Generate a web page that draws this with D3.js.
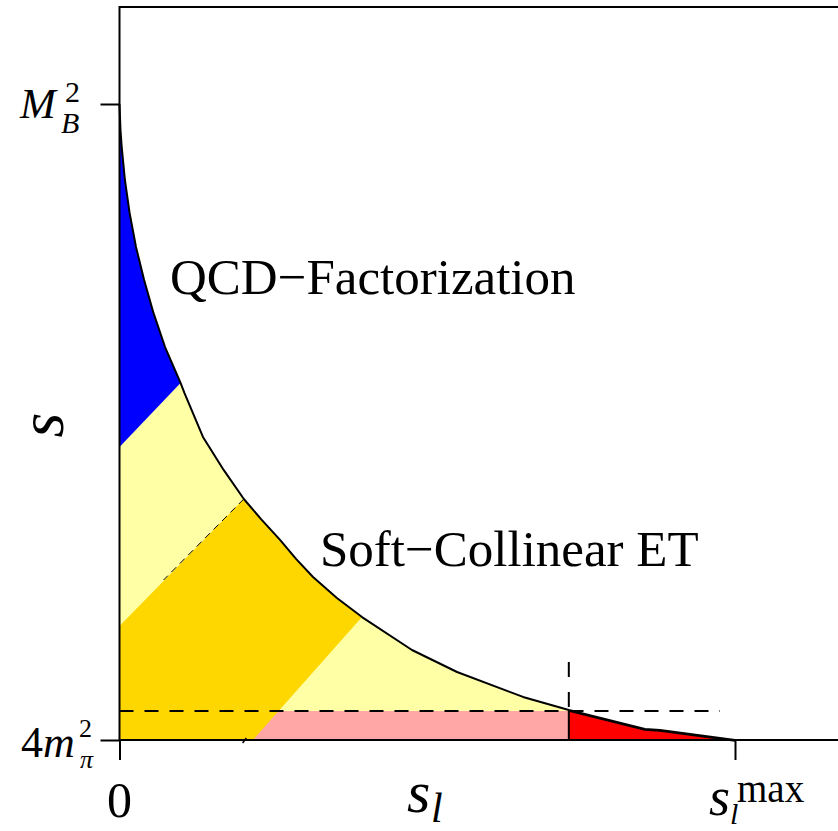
<!DOCTYPE html>
<html>
<head>
<meta charset="utf-8">
<script src="https://cdn.jsdelivr.net/npm/d3@7"></script>
<style>
  html, body { margin: 0; padding: 0; background: #fff; }
  svg { display: block; }
  text { font-family: "Liberation Serif", "DejaVu Serif", serif; fill: #000; }
</style>
</head>
<body>
<svg id="chart" width="838" height="831"></svg>
<script>
// Kinematic quantities (GeV^2)
const M_B2 = 27.87;        // M_B^2
const FOUR_MPI2 = 0.078;   // 4 m_pi^2
const SL_MAX = 25.0;       // s_l^max

// Phase-space boundary s(s_l)
const boundarySl = [0.00, 0.04, 0.09, 0.22, 0.41, 0.67, 1.00, 1.38, 1.85, 2.48, 2.64, 3.39, 4.23, 5.05, 5.75, 6.52, 7.17, 7.86, 8.83, 9.85, 11.88, 13.71, 16.39, 18.25, 21.34, 21.95, 25.00];
const boundaryS  = [27.87, 26.73, 25.99, 24.55, 23.11, 21.62, 20.18, 18.74, 17.25, 15.68, 15.24, 13.32, 11.88, 10.61, 9.73, 8.82, 7.99, 7.20, 6.28, 5.45, 4.01, 3.05, 1.96, 1.39, 0.56, 0.51, 0.078];

// Straight cut lines bounding the regions: [s_l, s] end points
const qcdfCut  = [[0.00, 12.88], [2.48, 15.68]];     // lower edge of the QCD factorization region
const scetLow  = [[0.00, 5.06], [5.05, 10.61]];      // upper-left edge of the SCET band
const scetHigh = [[5.42, FOUR_MPI2], [9.85, 5.45]];  // lower-right edge of the SCET band
const lowS     = 1.345;   // dashed line in s
const lowSlEnd = 24.39;
const cutSl    = 18.25;   // dashed line in s_l
const cutSlTop = 3.49;

// Axis tick values
const yTicks = [FOUR_MPI2, M_B2];
const xTicks = [0, SL_MAX];

const svg = d3.select("#chart");
const x = d3.scaleLinear().domain([0, SL_MAX]).range([119.5, 735]);
const y = d3.scaleLinear().domain([FOUR_MPI2, M_B2]).range([740, 104]);

const boundary = boundarySl.map((d, i) => [d, boundaryS[i]]);
const poly = d3.line().x(d => x(d[0])).y(d => y(d[1]));
const region = d3.area().x(d => x(d[0])).y0(y(FOUR_MPI2)).y1(d => y(d[1]));

// extend a cut line (given by two points) by factor k beyond its first point
const extend = (p, k) => [p[0][0] + (p[1][0] - p[0][0]) * k, p[0][1] + (p[1][1] - p[0][1]) * k];

// allowed phase space as clip
svg.append("clipPath").attr("id", "phase")
  .append("path").attr("d", region(boundary));
const g = svg.append("g").attr("clip-path", "url(#phase)");

// whole allowed region
g.append("path").attr("d", region(boundary)).attr("fill", "#ffffa6");

// QCD factorization region (large s)
const qEnd = extend(qcdfCut, 3);
g.append("path")
  .attr("d", poly([qcdfCut[0], qEnd, [qEnd[0], 40], [0, 40]]) + "Z")
  .attr("fill", "#0000ff");

// low-s strip
g.append("path")
  .attr("d", poly([[0, FOUR_MPI2], [0, lowS], [cutSl, lowS], [cutSl, FOUR_MPI2]]) + "Z")
  .attr("fill", "#ffa6a6");

// SCET band
g.append("path")
  .attr("d", poly([[0, FOUR_MPI2], scetLow[0], extend(scetLow, 1.5), extend(scetHigh, 1.5), scetHigh[0]]) + "Z")
  .attr("fill", "#ffd700");

// endpoint region (large s_l)
g.append("path")
  .attr("d", poly([[cutSl, FOUR_MPI2], [cutSl, 40], [40, 40], [40, FOUR_MPI2]]) + "Z")
  .attr("fill", "#ff0000");
svg.append("path")
  .attr("d", poly(boundary.filter(d => d[0] >= cutSl)))
  .attr("transform", "translate(0,1)")
  .attr("stroke", "#000").attr("stroke-width", 1.4).attr("fill", "none");

// dashed edge of the SCET band
svg.append("path")
  .attr("d", poly([scetLow[1], [1.79, 7.07]]))
  .attr("stroke", "#000").attr("stroke-width", 1)
  .attr("stroke-dasharray", "7,5").attr("fill", "none");

// dashed cut lines
svg.append("path")
  .attr("d", poly([[0, lowS], [lowSlEnd, lowS]]))
  .attr("stroke", "#000").attr("stroke-width", 2)
  .attr("stroke-dasharray", "14,11").attr("fill", "none");
svg.append("path")
  .attr("d", poly([[cutSl, cutSlTop], [cutSl, lowS]]))
  .attr("stroke", "#000").attr("stroke-width", 2)
  .attr("stroke-dasharray", "15,15").attr("fill", "none");
svg.append("path")
  .attr("d", poly([[cutSl, lowS], [cutSl, FOUR_MPI2]]))
  .attr("stroke", "#000").attr("stroke-width", 2).attr("fill", "none");

// boundary curve
svg.append("path")
  .attr("d", poly(boundary))
  .attr("stroke", "#000").attr("stroke-width", 2).attr("fill", "none")
  .attr("stroke-linejoin", "round");

// frame
const yTop = y.invert(7), xRight = x.invert(860);
svg.append("path")
  .attr("d", poly([[xRight, yTop], [0, yTop], [0, FOUR_MPI2], [xRight, FOUR_MPI2]]))
  .attr("stroke", "#000").attr("stroke-width", 2).attr("fill", "none");

// small mark at the foot of the SCET band
svg.append("line")
  .attr("x1", x(5.0)).attr("y1", y(FOUR_MPI2) + 3)
  .attr("x2", x(5.15)).attr("y2", y(FOUR_MPI2) - 2)
  .attr("stroke", "#000").attr("stroke-width", 1.5);

// axes (ticks only, frame drawn above)
const yAxis = svg.append("g").attr("transform", `translate(${x(0)},0)`)
  .call(d3.axisLeft(y).tickValues(yTicks).tickSize(19).tickFormat(""));
const xAxis = svg.append("g").attr("transform", `translate(0,${y(FOUR_MPI2)})`)
  .call(d3.axisBottom(x).tickValues(xTicks).tickSize(20).tickFormat(""));
[yAxis, xAxis].forEach(a => {
  a.select(".domain").remove();
  a.selectAll(".tick line").attr("stroke", "#000").attr("stroke-width", 2);
});

// y tick labels
const ym = y(M_B2);
const tM = svg.append("text");
tM.append("tspan").attr("x", 20).attr("y", ym + 14).attr("font-size", 43).attr("font-style", "italic").text("M");
tM.append("tspan").attr("x", 65).attr("y", ym - 2).attr("font-size", 30).text("2");
tM.append("tspan").attr("x", 61).attr("y", ym + 29).attr("font-size", 30).attr("font-style", "italic").text("B");

const y4 = y(FOUR_MPI2);
const t4 = svg.append("text").attr("font-size", 44);
t4.append("tspan").attr("x", 21).attr("y", y4 + 17).text("4");
t4.append("tspan").attr("font-style", "italic").text("m");
t4.append("tspan").attr("x", 79).attr("y", y4 - 3).attr("font-size", 26).text("2");
t4.append("tspan").attr("x", 80).attr("y", y4 + 28).attr("font-size", 26).attr("font-style", "italic").text("π");

// x tick labels
svg.append("text").attr("x", x(0)).attr("y", 817).attr("text-anchor", "middle")
  .attr("font-size", 50).text("0");
const tMax = svg.append("text");
tMax.append("tspan").attr("x", x(SL_MAX) - 26).attr("y", 815).attr("font-size", 54).attr("font-style", "italic").text("s");
tMax.append("tspan").attr("x", x(SL_MAX) - 5).attr("y", 824).attr("font-size", 30).attr("font-style", "italic").text("l");
tMax.append("tspan").attr("x", x(SL_MAX) + 2).attr("y", 802).attr("font-size", 39).text("max");

// axis titles
const tSl = svg.append("text").attr("font-style", "italic");
tSl.append("tspan").attr("x", 407).attr("y", 812).attr("font-size", 60).text("s");
tSl.append("tspan").attr("x", 431).attr("y", 822).attr("font-size", 42).text("l");
svg.append("text").attr("transform", "translate(63,425) rotate(-90)")
  .attr("text-anchor", "middle").attr("font-size", 64).attr("font-style", "italic").text("s");

// region labels
svg.append("text").attr("x", 170).attr("y", 294).attr("font-size", 51).text("QCD−Factorization");
svg.append("text").attr("x", 320).attr("y", 566).attr("font-size", 51).text("Soft−Collinear ET");
</script>
</body>
</html>
